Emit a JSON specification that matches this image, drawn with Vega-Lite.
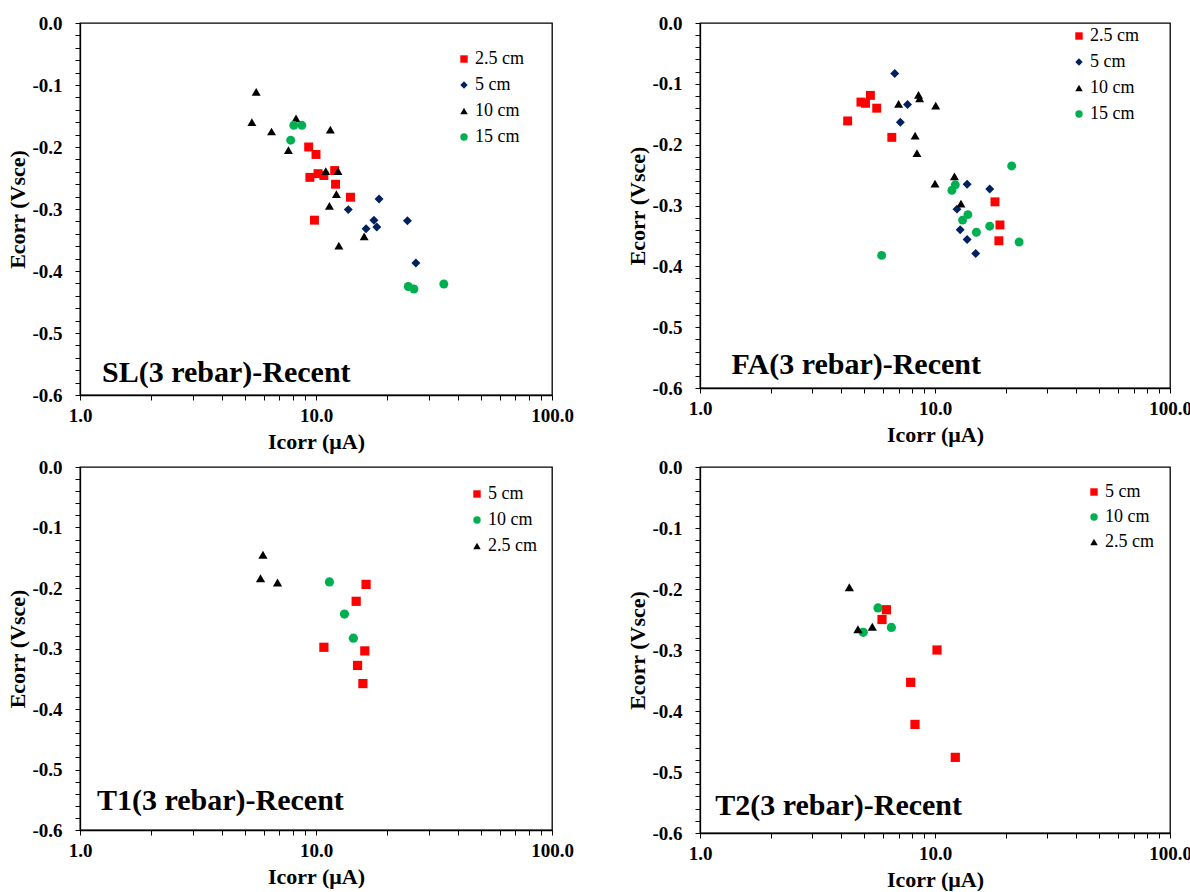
{
  "$schema": "https://vega.github.io/schema/vega-lite/v6.json",
  "padding": {"left": 6, "top": 13, "right": 0, "bottom": 0},
  "config": {
    "font": "Liberation Serif",
    "view": {"stroke": "black", "strokeWidth": 1.3},
    "axis": {
      "labelFont": "Liberation Serif", "labelFontSize": 19, "labelFontWeight": "bold", "labelColor": "black",
      "titleFont": "Liberation Serif", "titleFontSize": 22, "titleFontWeight": "bold", "titleColor": "black",
      "domainColor": "black", "domainWidth": 1.3, "tickColor": "black", "tickWidth": 1, "tickSize": 5, "ticks": true,
      "grid": false, "labelFlush": false, "labelOverlap": false, "labelBound": false
    },
    "axisX": {"labelPadding": 6, "titlePadding": 6},
    "axisY": {"labelPadding": 13, "titlePadding": 2},
    "legend": {
      "labelFont": "Liberation Serif", "labelFontSize": 18, "labelColor": "black",
      "symbolSize": 55, "rowPadding": 8, "labelOffset": 2, "padding": 0, "symbolStrokeWidth": 0
    }
  },
  "datasets": {
    "points": [
      {"panel": "SL", "depth": "2.5 cm", "Icorr": 9.31, "Ecorr": -0.200},
      {"panel": "SL", "depth": "2.5 cm", "Icorr": 10.0, "Ecorr": -0.212},
      {"panel": "SL", "depth": "2.5 cm", "Icorr": 9.42, "Ecorr": -0.249},
      {"panel": "SL", "depth": "2.5 cm", "Icorr": 10.2, "Ecorr": -0.243},
      {"panel": "SL", "depth": "2.5 cm", "Icorr": 10.8, "Ecorr": -0.246},
      {"panel": "SL", "depth": "2.5 cm", "Icorr": 12.0, "Ecorr": -0.238},
      {"panel": "SL", "depth": "2.5 cm", "Icorr": 12.1, "Ecorr": -0.260},
      {"panel": "SL", "depth": "2.5 cm", "Icorr": 14.0, "Ecorr": -0.281},
      {"panel": "SL", "depth": "2.5 cm", "Icorr": 9.85, "Ecorr": -0.318},
      {"panel": "SL", "depth": "5 cm", "Icorr": 18.5, "Ecorr": -0.284},
      {"panel": "SL", "depth": "5 cm", "Icorr": 13.7, "Ecorr": -0.301},
      {"panel": "SL", "depth": "5 cm", "Icorr": 17.6, "Ecorr": -0.318},
      {"panel": "SL", "depth": "5 cm", "Icorr": 16.3, "Ecorr": -0.332},
      {"panel": "SL", "depth": "5 cm", "Icorr": 18.1, "Ecorr": -0.329},
      {"panel": "SL", "depth": "5 cm", "Icorr": 24.4, "Ecorr": -0.319},
      {"panel": "SL", "depth": "5 cm", "Icorr": 26.5, "Ecorr": -0.387},
      {"panel": "SL", "depth": "10 cm", "Icorr": 5.58, "Ecorr": -0.111},
      {"panel": "SL", "depth": "10 cm", "Icorr": 5.35, "Ecorr": -0.160},
      {"panel": "SL", "depth": "10 cm", "Icorr": 6.48, "Ecorr": -0.175},
      {"panel": "SL", "depth": "10 cm", "Icorr": 8.23, "Ecorr": -0.154},
      {"panel": "SL", "depth": "10 cm", "Icorr": 7.64, "Ecorr": -0.205},
      {"panel": "SL", "depth": "10 cm", "Icorr": 11.5, "Ecorr": -0.172},
      {"panel": "SL", "depth": "10 cm", "Icorr": 11.0, "Ecorr": -0.239},
      {"panel": "SL", "depth": "10 cm", "Icorr": 12.4, "Ecorr": -0.239},
      {"panel": "SL", "depth": "10 cm", "Icorr": 12.2, "Ecorr": -0.276},
      {"panel": "SL", "depth": "10 cm", "Icorr": 11.4, "Ecorr": -0.295},
      {"panel": "SL", "depth": "10 cm", "Icorr": 12.5, "Ecorr": -0.359},
      {"panel": "SL", "depth": "10 cm", "Icorr": 16.0, "Ecorr": -0.344},
      {"panel": "SL", "depth": "15 cm", "Icorr": 8.05, "Ecorr": -0.165},
      {"panel": "SL", "depth": "15 cm", "Icorr": 8.71, "Ecorr": -0.165},
      {"panel": "SL", "depth": "15 cm", "Icorr": 7.81, "Ecorr": -0.189},
      {"panel": "SL", "depth": "15 cm", "Icorr": 24.6, "Ecorr": -0.425},
      {"panel": "SL", "depth": "15 cm", "Icorr": 26.0, "Ecorr": -0.429},
      {"panel": "SL", "depth": "15 cm", "Icorr": 34.8, "Ecorr": -0.421},

      {"panel": "FA", "depth": "2.5 cm", "Icorr": 4.25, "Ecorr": -0.161},
      {"panel": "FA", "depth": "2.5 cm", "Icorr": 4.84, "Ecorr": -0.130},
      {"panel": "FA", "depth": "2.5 cm", "Icorr": 5.06, "Ecorr": -0.132},
      {"panel": "FA", "depth": "2.5 cm", "Icorr": 5.31, "Ecorr": -0.119},
      {"panel": "FA", "depth": "2.5 cm", "Icorr": 5.65, "Ecorr": -0.140},
      {"panel": "FA", "depth": "2.5 cm", "Icorr": 6.55, "Ecorr": -0.188},
      {"panel": "FA", "depth": "2.5 cm", "Icorr": 18.0, "Ecorr": -0.294},
      {"panel": "FA", "depth": "2.5 cm", "Icorr": 18.9, "Ecorr": -0.332},
      {"panel": "FA", "depth": "2.5 cm", "Icorr": 18.7, "Ecorr": -0.358},
      {"panel": "FA", "depth": "5 cm", "Icorr": 6.74, "Ecorr": -0.083},
      {"panel": "FA", "depth": "5 cm", "Icorr": 7.64, "Ecorr": -0.134},
      {"panel": "FA", "depth": "5 cm", "Icorr": 7.12, "Ecorr": -0.163},
      {"panel": "FA", "depth": "5 cm", "Icorr": 13.7, "Ecorr": -0.265},
      {"panel": "FA", "depth": "5 cm", "Icorr": 17.1, "Ecorr": -0.273},
      {"panel": "FA", "depth": "5 cm", "Icorr": 12.4, "Ecorr": -0.306},
      {"panel": "FA", "depth": "5 cm", "Icorr": 12.8, "Ecorr": -0.340},
      {"panel": "FA", "depth": "5 cm", "Icorr": 13.7, "Ecorr": -0.356},
      {"panel": "FA", "depth": "5 cm", "Icorr": 14.9, "Ecorr": -0.379},
      {"panel": "FA", "depth": "10 cm", "Icorr": 7.0, "Ecorr": -0.133},
      {"panel": "FA", "depth": "10 cm", "Icorr": 8.51, "Ecorr": -0.118},
      {"panel": "FA", "depth": "10 cm", "Icorr": 8.60, "Ecorr": -0.124},
      {"panel": "FA", "depth": "10 cm", "Icorr": 10.07, "Ecorr": -0.136},
      {"panel": "FA", "depth": "10 cm", "Icorr": 8.23, "Ecorr": -0.185},
      {"panel": "FA", "depth": "10 cm", "Icorr": 8.38, "Ecorr": -0.214},
      {"panel": "FA", "depth": "10 cm", "Icorr": 10.0, "Ecorr": -0.264},
      {"panel": "FA", "depth": "10 cm", "Icorr": 12.1, "Ecorr": -0.252},
      {"panel": "FA", "depth": "10 cm", "Icorr": 12.9, "Ecorr": -0.297},
      {"panel": "FA", "depth": "15 cm", "Icorr": 5.93, "Ecorr": -0.382},
      {"panel": "FA", "depth": "15 cm", "Icorr": 21.2, "Ecorr": -0.235},
      {"panel": "FA", "depth": "15 cm", "Icorr": 11.8, "Ecorr": -0.275},
      {"panel": "FA", "depth": "15 cm", "Icorr": 12.2, "Ecorr": -0.266},
      {"panel": "FA", "depth": "15 cm", "Icorr": 13.1, "Ecorr": -0.324},
      {"panel": "FA", "depth": "15 cm", "Icorr": 13.8, "Ecorr": -0.315},
      {"panel": "FA", "depth": "15 cm", "Icorr": 15.0, "Ecorr": -0.344},
      {"panel": "FA", "depth": "15 cm", "Icorr": 17.1, "Ecorr": -0.334},
      {"panel": "FA", "depth": "15 cm", "Icorr": 22.8, "Ecorr": -0.360},

      {"panel": "T1", "depth": "5 cm", "Icorr": 16.3, "Ecorr": -0.194},
      {"panel": "T1", "depth": "5 cm", "Icorr": 14.8, "Ecorr": -0.222},
      {"panel": "T1", "depth": "5 cm", "Icorr": 10.8, "Ecorr": -0.298},
      {"panel": "T1", "depth": "5 cm", "Icorr": 16.1, "Ecorr": -0.304},
      {"panel": "T1", "depth": "5 cm", "Icorr": 15.0, "Ecorr": -0.328},
      {"panel": "T1", "depth": "5 cm", "Icorr": 15.8, "Ecorr": -0.358},
      {"panel": "T1", "depth": "10 cm", "Icorr": 11.4, "Ecorr": -0.190},
      {"panel": "T1", "depth": "10 cm", "Icorr": 13.2, "Ecorr": -0.243},
      {"panel": "T1", "depth": "10 cm", "Icorr": 14.4, "Ecorr": -0.283},
      {"panel": "T1", "depth": "2.5 cm", "Icorr": 5.96, "Ecorr": -0.145},
      {"panel": "T1", "depth": "2.5 cm", "Icorr": 5.82, "Ecorr": -0.184},
      {"panel": "T1", "depth": "2.5 cm", "Icorr": 6.87, "Ecorr": -0.191},

      {"panel": "T2", "depth": "5 cm", "Icorr": 6.21, "Ecorr": -0.234},
      {"panel": "T2", "depth": "5 cm", "Icorr": 5.95, "Ecorr": -0.250},
      {"panel": "T2", "depth": "5 cm", "Icorr": 10.2, "Ecorr": -0.300},
      {"panel": "T2", "depth": "5 cm", "Icorr": 7.88, "Ecorr": -0.353},
      {"panel": "T2", "depth": "5 cm", "Icorr": 8.22, "Ecorr": -0.422},
      {"panel": "T2", "depth": "5 cm", "Icorr": 12.2, "Ecorr": -0.476},
      {"panel": "T2", "depth": "10 cm", "Icorr": 5.72, "Ecorr": -0.231},
      {"panel": "T2", "depth": "10 cm", "Icorr": 6.52, "Ecorr": -0.263},
      {"panel": "T2", "depth": "10 cm", "Icorr": 4.95, "Ecorr": -0.271},
      {"panel": "T2", "depth": "2.5 cm", "Icorr": 4.32, "Ecorr": -0.197},
      {"panel": "T2", "depth": "2.5 cm", "Icorr": 4.70, "Ecorr": -0.266},
      {"panel": "T2", "depth": "2.5 cm", "Icorr": 5.41, "Ecorr": -0.262}
    ],
    "labels": [
      {"panel": "SL", "label": "SL(3 rebar)-Recent", "Icorr": 1.24, "Ecorr": -0.565},
      {"panel": "FA", "label": "FA(3 rebar)-Recent", "Icorr": 1.36, "Ecorr": -0.563},
      {"panel": "T1", "label": "T1(3 rebar)-Recent", "Icorr": 1.18, "Ecorr": -0.552},
      {"panel": "T2", "label": "T2(3 rebar)-Recent", "Icorr": 1.16, "Ecorr": -0.556}
    ]
  },
  "spacing": 51,
  "resolve": {"scale": {"color": "independent", "shape": "independent", "x": "independent", "y": "independent"}},
  "hconcat": [
    {
      "spacing": 4,
      "resolve": {"scale": {"color": "independent", "shape": "independent", "x": "independent", "y": "independent"}},
      "vconcat": [
        {
          "width": 472, "height": 372,
          "resolve": {"axis": {"x": "independent", "y": "independent"}},
          "layer": [
            {
              "data": {"name": "points"},
              "transform": [{"filter": "datum.panel === 'SL'"}],
              "mark": {"type": "point", "filled": true, "size": 80, "opacity": 1},
              "encoding": {
                "x": {"field": "Icorr", "type": "quantitative",
                  "scale": {"type": "log", "domain": [1, 100], "nice": false},
                  "axis": {"title": "Icorr (μA)", "orient": "bottom", "labelOverlap": false, "values": [1, 10, 100], "format": ".1f"}},
                "y": {"field": "Ecorr", "type": "quantitative",
                  "scale": {"domain": [-0.6, 0], "nice": false, "zero": false},
                  "axis": {"title": "Ecorr (Vsce)", "orient": "left", "labelOverlap": false, "values": [-0.6,-0.5,-0.4,-0.3,-0.2,-0.1,0],
                    "labelExpr": "(datum.value < -0.001 ? '-' : '') + format(abs(datum.value), '.1f')"}},
                "color": {"field": "depth", "type": "nominal",
                  "scale": {"domain": ["2.5 cm", "5 cm", "10 cm", "15 cm"], "range": ["#FF0000", "#002060", "#000000", "#00B050"]},
                  "legend": {"title": null, "orient": "none", "legendX": 375, "legendY": 27, "labelFont": "Liberation Serif"}},
                "shape": {"field": "depth", "type": "nominal",
                  "scale": {"domain": ["2.5 cm", "5 cm", "10 cm", "15 cm"], "range": ["square", "diamond", "triangle-up", "circle"]},
                  "legend": {"title": null, "orient": "none", "legendX": 375, "legendY": 27, "labelFont": "Liberation Serif"}}
              }
            },
            {
              "data": {"name": "labels"},
              "transform": [{"filter": "datum.panel === 'SL'"}],
              "mark": {"type": "text", "align": "left", "baseline": "middle", "fontSize": 30, "fontWeight": "bold", "font": "Liberation Serif", "color": "black"},
              "encoding": {
                "x": {"field": "Icorr", "type": "quantitative", "scale": {"type": "log", "domain": [1, 100], "nice": false},
                  "axis": {"title": null, "orient": "bottom", "labels": false, "domain": false, "values": [2,3,4,5,6,7,8,9,20,30,40,50,60,70,80,90]}},
                "y": {"field": "Ecorr", "type": "quantitative", "scale": {"domain": [-0.6, 0], "nice": false, "zero": false},
                  "axis": {"title": null, "orient": "left", "labels": false, "domain": false, "values": [-0.58,-0.56,-0.54,-0.52,-0.48,-0.46,-0.44,-0.42,-0.38,-0.36,-0.34,-0.32,-0.28,-0.26,-0.24,-0.22,-0.18,-0.16,-0.14,-0.12,-0.08,-0.06,-0.04,-0.02]}},
                "text": {"field": "label"}
              }
            }
          ]
        },
        {
          "width": 472, "height": 363,
          "resolve": {"axis": {"x": "independent", "y": "independent"}},
          "layer": [
            {
              "data": {"name": "points"},
              "transform": [{"filter": "datum.panel === 'T1'"}],
              "mark": {"type": "point", "filled": true, "size": 85, "opacity": 1},
              "encoding": {
                "x": {"field": "Icorr", "type": "quantitative",
                  "scale": {"type": "log", "domain": [1, 100], "nice": false},
                  "axis": {"title": "Icorr (μA)", "orient": "bottom", "labelOverlap": false, "values": [1, 10, 100], "format": ".1f"}},
                "y": {"field": "Ecorr", "type": "quantitative",
                  "scale": {"domain": [-0.6, 0], "nice": false, "zero": false},
                  "axis": {"title": "Ecorr (Vsce)", "orient": "left", "labelOverlap": false, "values": [-0.6,-0.5,-0.4,-0.3,-0.2,-0.1,0],
                    "labelExpr": "(datum.value < -0.001 ? '-' : '') + format(abs(datum.value), '.1f')"}},
                "color": {"field": "depth", "type": "nominal",
                  "scale": {"domain": ["5 cm", "10 cm", "2.5 cm"], "range": ["#FF0000", "#00B050", "#000000"]},
                  "legend": {"title": null, "orient": "none", "legendX": 388, "legendY": 18, "labelFont": "Liberation Serif"}},
                "shape": {"field": "depth", "type": "nominal",
                  "scale": {"domain": ["5 cm", "10 cm", "2.5 cm"], "range": ["square", "circle", "triangle-up"]},
                  "legend": {"title": null, "orient": "none", "legendX": 388, "legendY": 18, "labelFont": "Liberation Serif"}}
              }
            },
            {
              "data": {"name": "labels"},
              "transform": [{"filter": "datum.panel === 'T1'"}],
              "mark": {"type": "text", "align": "left", "baseline": "middle", "fontSize": 30, "fontWeight": "bold", "font": "Liberation Serif", "color": "black"},
              "encoding": {
                "x": {"field": "Icorr", "type": "quantitative", "scale": {"type": "log", "domain": [1, 100], "nice": false},
                  "axis": {"title": null, "orient": "bottom", "labels": false, "domain": false, "values": [2,3,4,5,6,7,8,9,20,30,40,50,60,70,80,90]}},
                "y": {"field": "Ecorr", "type": "quantitative", "scale": {"domain": [-0.6, 0], "nice": false, "zero": false},
                  "axis": {"title": null, "orient": "left", "labels": false, "domain": false, "values": [-0.58,-0.56,-0.54,-0.52,-0.48,-0.46,-0.44,-0.42,-0.38,-0.36,-0.34,-0.32,-0.28,-0.26,-0.24,-0.22,-0.18,-0.16,-0.14,-0.12,-0.08,-0.06,-0.04,-0.02]}},
                "text": {"field": "label"}
              }
            }
          ]
        }
      ]
    },
    {
      "spacing": 11,
      "resolve": {"scale": {"color": "independent", "shape": "independent", "x": "independent", "y": "independent"}},
      "vconcat": [
        {
          "width": 470, "height": 365,
          "resolve": {"axis": {"x": "independent", "y": "independent"}},
          "layer": [
            {
              "data": {"name": "points"},
              "transform": [{"filter": "datum.panel === 'FA'"}],
              "mark": {"type": "point", "filled": true, "size": 80, "opacity": 1},
              "encoding": {
                "x": {"field": "Icorr", "type": "quantitative",
                  "scale": {"type": "log", "domain": [1, 100], "nice": false},
                  "axis": {"title": "Icorr (μA)", "orient": "bottom", "labelOverlap": false, "values": [1, 10, 100], "format": ".1f"}},
                "y": {"field": "Ecorr", "type": "quantitative",
                  "scale": {"domain": [-0.6, 0], "nice": false, "zero": false},
                  "axis": {"title": "Ecorr (Vsce)", "orient": "left", "labelOverlap": false, "values": [-0.6,-0.5,-0.4,-0.3,-0.2,-0.1,0],
                    "labelExpr": "(datum.value < -0.001 ? '-' : '') + format(abs(datum.value), '.1f')"}},
                "color": {"field": "depth", "type": "nominal",
                  "scale": {"domain": ["2.5 cm", "5 cm", "10 cm", "15 cm"], "range": ["#FF0000", "#002060", "#000000", "#00B050"]},
                  "legend": {"title": null, "orient": "none", "legendX": 370, "legendY": 4, "labelFont": "Liberation Serif"}},
                "shape": {"field": "depth", "type": "nominal",
                  "scale": {"domain": ["2.5 cm", "5 cm", "10 cm", "15 cm"], "range": ["square", "diamond", "triangle-up", "circle"]},
                  "legend": {"title": null, "orient": "none", "legendX": 370, "legendY": 4, "labelFont": "Liberation Serif"}}
              }
            },
            {
              "data": {"name": "labels"},
              "transform": [{"filter": "datum.panel === 'FA'"}],
              "mark": {"type": "text", "align": "left", "baseline": "middle", "fontSize": 30, "fontWeight": "bold", "font": "Liberation Serif", "color": "black"},
              "encoding": {
                "x": {"field": "Icorr", "type": "quantitative", "scale": {"type": "log", "domain": [1, 100], "nice": false},
                  "axis": {"title": null, "orient": "bottom", "labels": false, "domain": false, "values": [2,3,4,5,6,7,8,9,20,30,40,50,60,70,80,90]}},
                "y": {"field": "Ecorr", "type": "quantitative", "scale": {"domain": [-0.6, 0], "nice": false, "zero": false},
                  "axis": {"title": null, "orient": "left", "labels": false, "domain": false, "values": [-0.58,-0.56,-0.54,-0.52,-0.48,-0.46,-0.44,-0.42,-0.38,-0.36,-0.34,-0.32,-0.28,-0.26,-0.24,-0.22,-0.18,-0.16,-0.14,-0.12,-0.08,-0.06,-0.04,-0.02]}},
                "text": {"field": "label"}
              }
            }
          ]
        },
        {
          "width": 470, "height": 366,
          "resolve": {"axis": {"x": "independent", "y": "independent"}},
          "layer": [
            {
              "data": {"name": "points"},
              "transform": [{"filter": "datum.panel === 'T2'"}],
              "mark": {"type": "point", "filled": true, "size": 85, "opacity": 1},
              "encoding": {
                "x": {"field": "Icorr", "type": "quantitative",
                  "scale": {"type": "log", "domain": [1, 100], "nice": false},
                  "axis": {"title": "Icorr (μA)", "orient": "bottom", "labelOverlap": false, "values": [1, 10, 100], "format": ".1f"}},
                "y": {"field": "Ecorr", "type": "quantitative",
                  "scale": {"domain": [-0.6, 0], "nice": false, "zero": false},
                  "axis": {"title": "Ecorr (Vsce)", "orient": "left", "labelOverlap": false, "values": [-0.6,-0.5,-0.4,-0.3,-0.2,-0.1,0],
                    "labelExpr": "(datum.value < -0.001 ? '-' : '') + format(abs(datum.value), '.1f')"}},
                "color": {"field": "depth", "type": "nominal",
                  "scale": {"domain": ["5 cm", "10 cm", "2.5 cm"], "range": ["#FF0000", "#00B050", "#000000"]},
                  "legend": {"title": null, "orient": "none", "legendX": 385, "legendY": 16, "rowPadding": 7, "labelFont": "Liberation Serif"}},
                "shape": {"field": "depth", "type": "nominal",
                  "scale": {"domain": ["5 cm", "10 cm", "2.5 cm"], "range": ["square", "circle", "triangle-up"]},
                  "legend": {"title": null, "orient": "none", "legendX": 385, "legendY": 16, "rowPadding": 7, "labelFont": "Liberation Serif"}}
              }
            },
            {
              "data": {"name": "labels"},
              "transform": [{"filter": "datum.panel === 'T2'"}],
              "mark": {"type": "text", "align": "left", "baseline": "middle", "fontSize": 30, "fontWeight": "bold", "font": "Liberation Serif", "color": "black"},
              "encoding": {
                "x": {"field": "Icorr", "type": "quantitative", "scale": {"type": "log", "domain": [1, 100], "nice": false},
                  "axis": {"title": null, "orient": "bottom", "labels": false, "domain": false, "values": [2,3,4,5,6,7,8,9,20,30,40,50,60,70,80,90]}},
                "y": {"field": "Ecorr", "type": "quantitative", "scale": {"domain": [-0.6, 0], "nice": false, "zero": false},
                  "axis": {"title": null, "orient": "left", "labels": false, "domain": false, "values": [-0.58,-0.56,-0.54,-0.52,-0.48,-0.46,-0.44,-0.42,-0.38,-0.36,-0.34,-0.32,-0.28,-0.26,-0.24,-0.22,-0.18,-0.16,-0.14,-0.12,-0.08,-0.06,-0.04,-0.02]}},
                "text": {"field": "label"}
              }
            }
          ]
        }
      ]
    }
  ]
}
